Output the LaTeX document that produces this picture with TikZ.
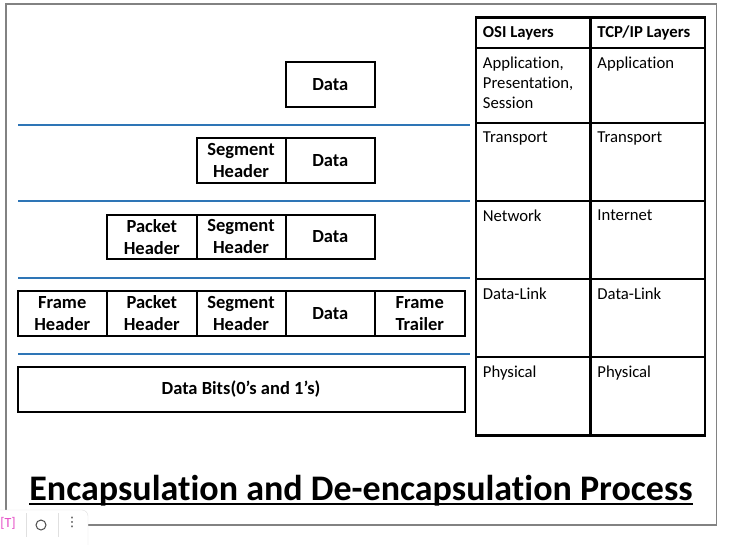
\documentclass[tikz,border=0pt]{standalone}
\usepackage{fontspec}
\setmainfont[Ligatures=NoCommon]{Carlito}
\newfontfamily\symfont{DejaVu Sans}
\definecolor{lineblue}{RGB}{46,117,182}
\definecolor{framegray}{RGB}{130,130,130}
\definecolor{uipink}{RGB}{230,80,200}
\begin{document}
\begin{tikzpicture}[x=1pt,y=-1pt,
  box/.style={draw, line width=2pt, inner sep=0pt, minimum height=44.5pt,
    align=center, font=\bfseries\fontsize{18.5}{22}\selectfont},
  cell/.style={draw, line width=2.5pt, inner sep=0pt},
  celltext/.style={anchor=north west, inner sep=0pt, align=left,
    font=\fontsize{16.7}{20}\selectfont},
  headtext/.style={anchor=west, inner sep=0pt, font=\bfseries\fontsize{16.7}{20}\selectfont},
  sep/.style={draw=lineblue, line width=2pt}]
\useasboundingbox (0,0) rectangle (734,544);
\fill[white] (0,0) rectangle (734,544);
% outer frame
\draw[framegray, line width=1.5pt] (6,4) rectangle (716.5,525);

% separators
\foreach \n/\y in {s1/125, s2/201, s3/278, s4/354} {
  \coordinate (\n a) at (18,\y);
  \coordinate (\n b) at (469.5,\y);
  \draw[sep] (\n a) -- (\n b);
}

% row 1
\node[box, minimum width=89.5pt] (d1) at (330.25,84.25) {Data};
% row 2
\node[box, minimum width=89pt] (sh2) at (241,160.5) {Segment\\Header};
\node[box, minimum width=89.5pt] (d2) at (330.25,160.5) {Data};
% row 3
\node[box, minimum width=89.5pt] (ph3) at (151.75,236.75) {Packet\\Header};
\node[box, minimum width=89pt] (sh3) at (241,236.75) {Segment\\Header};
\node[box, minimum width=89.5pt] (d3) at (330.25,236.75) {Data};
% row 4
\node[box, minimum width=89.5pt] (fh4) at (62.25,313.25) {Frame\\Header};
\node[box, minimum width=89.5pt] (ph4) at (151.75,313.25) {Packet\\Header};
\node[box, minimum width=89pt] (sh4) at (241,313.25) {Segment\\Header};
\node[box, minimum width=89.5pt] (d4) at (330.25,313.25) {Data};
\node[box, minimum width=89.5pt] (ft4) at (419.75,313.25) {Frame\\Trailer};
% row 5
\node[box, minimum width=447pt] (bits) at (241,389.25) {Data Bits(0’s and 1’s)};

% table
\foreach \r/\ya/\yb in {0/17.5/48, 1/48/123, 2/123/201, 3/201/279, 4/279/357, 5/357/435.5} {
  \node[cell, minimum width=114.5pt, minimum height={\yb-\ya}] (osi\r) at (533.25,{(\ya+\yb)/2}) {};
  \node[cell, minimum width=114.5pt, minimum height={\yb-\ya}] (tcp\r) at (647.75,{(\ya+\yb)/2}) {};
}
\node[headtext] (hosi) at ([xshift=8pt,yshift=-0.5pt]osi0.west) {OSI Layers};
\node[headtext] (htcp) at ([xshift=8pt,yshift=-0.5pt]tcp0.west) {TCP/IP Layers};
\node[celltext] (t1a) at ([xshift=8pt,yshift=-10pt]osi1.north west) {Application,\\Presentation,\\Session};
\node[celltext] (t1b) at ([xshift=8pt,yshift=-10pt]tcp1.north west) {Application};
\node[celltext] (t2a) at ([xshift=8pt,yshift=-10pt]osi2.north west) {Transport};
\node[celltext] (t2b) at ([xshift=8pt,yshift=-10pt]tcp2.north west) {Transport};
\node[celltext] (t3a) at ([xshift=8pt,yshift=-10pt]osi3.north west) {Network};
\node[celltext] (t3b) at ([xshift=8pt,yshift=-10pt]tcp3.north west) {Internet};
\node[celltext] (t4a) at ([xshift=8pt,yshift=-10pt]osi4.north west) {Data-Link};
\node[celltext] (t4b) at ([xshift=8pt,yshift=-10pt]tcp4.north west) {Data-Link};
\node[celltext] (t5a) at ([xshift=8pt,yshift=-10pt]osi5.north west) {Physical};
\node[celltext] (t5b) at ([xshift=8pt,yshift=-10pt]tcp5.north west) {Physical};

% title
\node[anchor=base, inner sep=0pt, font=\bfseries\fontsize{36}{40}\selectfont] (title) at (361,500) {Encapsulation and De-encapsulation Process};
\draw[line width=2pt] ([yshift=-3.5pt]title.base west) -- ([yshift=-3.5pt]title.base east);

% screenshot toolbar overlay
\draw[fill=white, draw=black!12, rounded corners=6pt] (-10,510) rectangle (88,560);
\node[text=uipink, inner sep=0pt, font=\fontsize{14}{14}\selectfont] (uiT) at (8,523) {[T]};
\node[draw=black!70, circle, minimum size=10pt, inner sep=0pt, line width=1pt] (uicam) at (41,525) {};
\node[inner sep=0pt, font=\symfont\fontsize{13}{13}\selectfont, text=black!80] (uidots) at (72,522) {⋮};
\draw[black!12] (uiT.east) ++(10,-10) -- ++(0,24);
\draw[black!12] (uicam.east) ++(12,-12) -- ++(0,24);
\end{tikzpicture}
\end{document}
